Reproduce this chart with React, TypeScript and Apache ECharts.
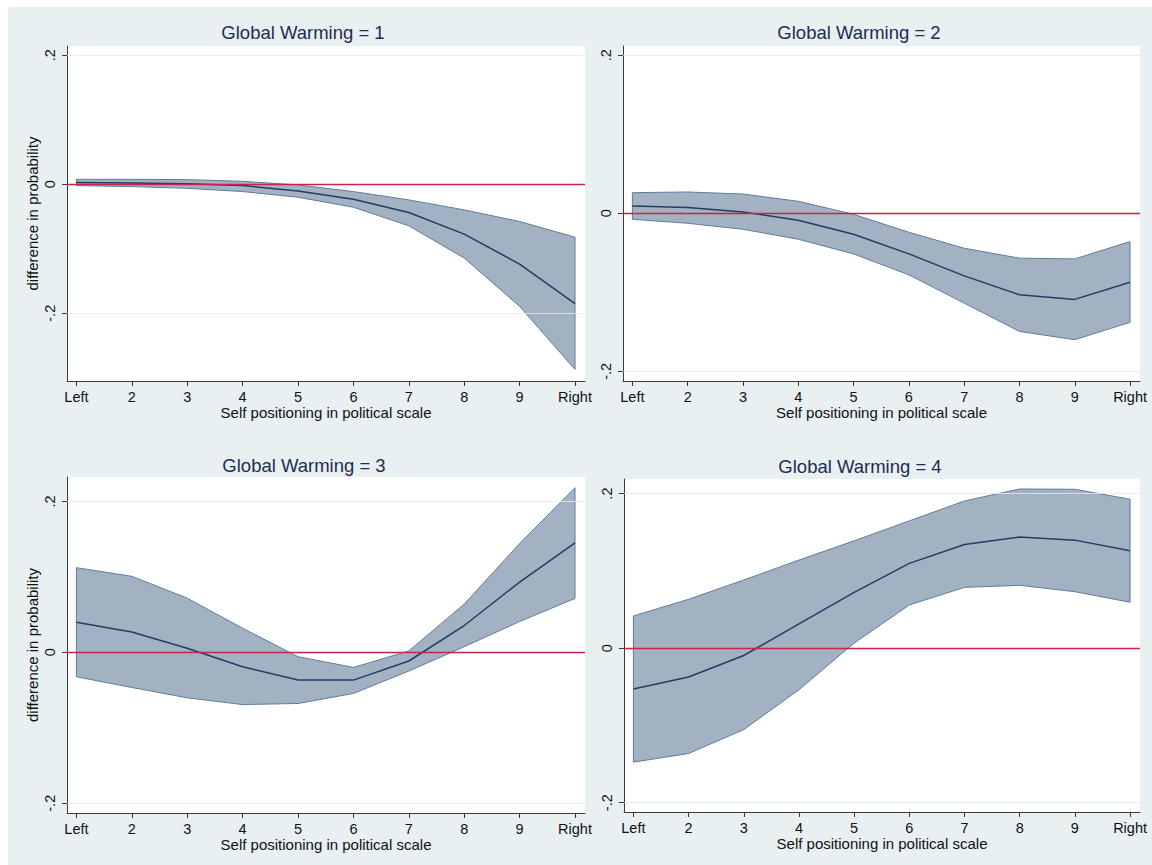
import React, { useEffect, useRef } from "react";
import * as echarts from "echarts";

// ---- data ----
const positions = [1, 2, 3, 4, 5, 6, 7, 8, 9, 10];
const xTickLabels = ["Left", "2", "3", "4", "5", "6", "7", "8", "9", "Right"];
const yTicks = [-0.2, 0, 0.2];
const yTickLabels = ["-.2", "0", ".2"];
const panelTitles = ["Global Warming = 1", "Global Warming = 2", "Global Warming = 3", "Global Warming = 4"];
const xAxisTitle = "Self positioning in political scale";
const yAxisTitle = "difference in probability";

const gw1Mean = [0.0026, 0.002, 0.001, -0.002, -0.0103, -0.0232, -0.0438, -0.0773, -0.1237, -0.185];
const gw1Lower = [-0.002, -0.0036, -0.0062, -0.0113, -0.0201, -0.0356, -0.0644, -0.1144, -0.1892, -0.287];
const gw1Upper = [0.0077, 0.0077, 0.0072, 0.0046, -0.001, -0.0113, -0.0242, -0.0397, -0.0577, -0.082];

const gw2Mean = [0.0093, 0.0072, 0.0017, -0.0088, -0.0265, -0.0514, -0.0792, -0.1032, -0.109, -0.0872];
const gw2Lower = [-0.0076, -0.0126, -0.0202, -0.0328, -0.0514, -0.0779, -0.1137, -0.1495, -0.16, -0.138];
const gw2Upper = [0.0261, 0.027, 0.0244, 0.0152, -0.0013, -0.024, -0.0442, -0.0568, -0.0577, -0.0358];

const gw3Mean = [0.0399, 0.027, 0.0053, -0.0191, -0.0368, -0.0368, -0.0115, 0.0355, 0.0931, 0.145];
const gw3Lower = [-0.0324, -0.0466, -0.0603, -0.0692, -0.0678, -0.0545, -0.0248, 0.0075, 0.0408, 0.0714];
const gw3Upper = [0.1122, 0.1007, 0.0718, 0.0319, -0.0058, -0.02, 0.0018, 0.0639, 0.1441, 0.2182];

const gw4Mean = [-0.0529, -0.0374, -0.0095, 0.0314, 0.0723, 0.1097, 0.1342, 0.1437, 0.1398, 0.126];
const gw4Lower = [-0.1475, -0.1363, -0.1054, -0.0538, 0.0065, 0.0559, 0.0787, 0.0813, 0.0731, 0.0594];
const gw4Upper = [0.0417, 0.0632, 0.0882, 0.114, 0.1389, 0.1647, 0.1905, 0.206, 0.2056, 0.1927];

const panelData = [
  { mean: gw1Mean, lower: gw1Lower, upper: gw1Upper },
  { mean: gw2Mean, lower: gw2Lower, upper: gw2Upper },
  { mean: gw3Mean, lower: gw3Lower, upper: gw3Upper },
  { mean: gw4Mean, lower: gw4Lower, upper: gw4Upper },
];

// ---- layout / style ----
const grids = [
  { left: 67, top: 46, width: 518, height: 335 },
  { left: 623, top: 46, width: 517, height: 335 },
  { left: 67, top: 477, width: 518, height: 336 },
  { left: 624, top: 479, width: 516, height: 333 },
];
const yRanges = [
  [-0.305, 0.2144],
  [-0.2123, 0.2118],
  [-0.2129, 0.2323],
  [-0.212, 0.2189],
];
const titlePos = [
  [303, 32],
  [859, 32],
  [304, 465],
  [860, 466],
];
const X_MIN = 0.83;
const X_MAX = 10.18;
const FONT = "'Liberation Sans', Arial, Helvetica, sans-serif";
const BG = "#e8f0f2";
const BAND_FILL = "#a3b2c2";
const BAND_EDGE = "#5f7d9b";
const MEAN_COLOR = "#1f3e63";
const ZERO_COLOR = "#c8234a";
const AXIS_COLOR = "#3a3a3a";
const TITLE_COLOR = "#1e2c55";

function buildOption() {
  const grid = grids.map((g) => ({
    ...g,
    show: true,
    backgroundColor: "#ffffff",
    borderWidth: 0,
    containLabel: false,
  }));

  const xAxis = grids.map((_, i) => ({
    type: "value",
    gridIndex: i,
    min: X_MIN,
    max: X_MAX,
    name: xAxisTitle,
    nameLocation: "middle",
    nameGap: 24,
    nameTextStyle: { fontFamily: FONT, fontSize: 15, color: "#111" },
    axisLine: { show: true, onZero: false, lineStyle: { color: AXIS_COLOR, width: 1 } },
    axisTick: { show: true, length: 5, customValues: positions, lineStyle: { color: AXIS_COLOR } },
    axisLabel: {
      show: true,
      customValues: positions,
      margin: 8,
      fontFamily: FONT,
      fontSize: 14.5,
      color: "#111",
      formatter: (v: number) => {
        const idx = positions.indexOf(Math.round(v));
        return idx >= 0 ? xTickLabels[idx] : "";
      },
    },
    splitLine: { show: false },
  }));

  const yAxis = grids.map((_, i) => ({
    type: "value",
    gridIndex: i,
    min: yRanges[i][0],
    max: yRanges[i][1],
    name: i % 2 === 0 ? yAxisTitle : "",
    nameLocation: "middle",
    nameGap: 27,
    nameRotate: 90,
    nameTextStyle: { fontFamily: FONT, fontSize: 15, color: "#111" },
    axisLine: { show: true, onZero: false, lineStyle: { color: AXIS_COLOR, width: 1 } },
    axisTick: { show: true, length: 5, customValues: yTicks, lineStyle: { color: AXIS_COLOR } },
    axisLabel: {
      show: true,
      customValues: yTicks,
      rotate: 90,
      margin: 10,
      fontFamily: FONT,
      fontSize: 14.5,
      color: "#111",
      formatter: (v: number) => {
        const idx = yTicks.findIndex((t) => Math.abs(t - v) < 1e-9);
        return idx >= 0 ? yTickLabels[idx] : "";
      },
    },
    splitLine: { show: false },
  }));

  const series: any[] = [];
  panelData.forEach((p, i) => {
    // faint grid lines at labelled ticks
    series.push({
      type: "line",
      xAxisIndex: i,
      yAxisIndex: i,
      data: [],
      silent: true,
      z: 1,
      markLine: {
        silent: true,
        symbol: "none",
        label: { show: false },
        lineStyle: { color: "#e2ebee", width: 1, type: "solid", opacity: 0.8 },
        data: yTicks.filter((t) => t !== 0).map((t) => ({ yAxis: t })),
      },
    });
    // confidence band
    series.push({
      type: "custom",
      xAxisIndex: i,
      yAxisIndex: i,
      z: 2,
      silent: true,
      data: positions.map((x, k) => [x, p.lower[k], p.upper[k]]),
      encode: { x: 0, y: [1, 2] },
      renderItem: (params: any, api: any) => {
        if (params.dataIndex !== 0) return null;
        const pts: number[][] = [];
        for (let k = 0; k < positions.length; k++) pts.push(api.coord([positions[k], p.upper[k]]));
        for (let k = positions.length - 1; k >= 0; k--) pts.push(api.coord([positions[k], p.lower[k]]));
        return {
          type: "polygon",
          shape: { points: pts },
          style: { fill: BAND_FILL, stroke: BAND_EDGE, lineWidth: 1 },
        };
      },
    });
    // mean line
    series.push({
      type: "line",
      xAxisIndex: i,
      yAxisIndex: i,
      z: 3,
      data: positions.map((x, k) => [x, p.mean[k]]),
      symbol: "none",
      lineStyle: { color: MEAN_COLOR, width: 1.5 },
      silent: true,
    });
    // zero reference line
    series.push({
      type: "line",
      xAxisIndex: i,
      yAxisIndex: i,
      data: [],
      z: 4,
      silent: true,
      markLine: {
        silent: true,
        symbol: "none",
        label: { show: false },
        lineStyle: { color: ZERO_COLOR, width: 1.3, type: "solid" },
        data: [{ yAxis: 0 }],
      },
    });
  });

  const graphic: any[] = [
    { type: "rect", shape: { x: 0, y: 0, width: 1152, height: 7 }, style: { fill: "#ffffff" }, silent: true },
    { type: "rect", shape: { x: 0, y: 0, width: 8, height: 865 }, style: { fill: "#ffffff" }, silent: true },
  ];
  panelTitles.forEach((t, i) => {
    graphic.push({
      type: "text",
      x: titlePos[i][0],
      y: titlePos[i][1],
      silent: true,
      style: {
        text: t,
        fontFamily: FONT,
        fontSize: 18.5,
        fill: TITLE_COLOR,
        align: "center",
        verticalAlign: "middle",
      },
    });
  });

  return {
    animation: false,
    backgroundColor: BG,
    grid,
    xAxis,
    yAxis,
    series,
    graphic,
  };
}

export default function App() {
  const ref = useRef<HTMLDivElement>(null);
  useEffect(() => {
    if (!ref.current) return;
    const chart = echarts.init(ref.current, null, { renderer: "svg" });
    chart.setOption(buildOption() as any);
    return () => chart.dispose();
  }, []);
  return (
    <div
      ref={ref}
      style={{ position: "absolute", left: 0, top: 0, width: 1152, height: 865 }}
    />
  );
}
